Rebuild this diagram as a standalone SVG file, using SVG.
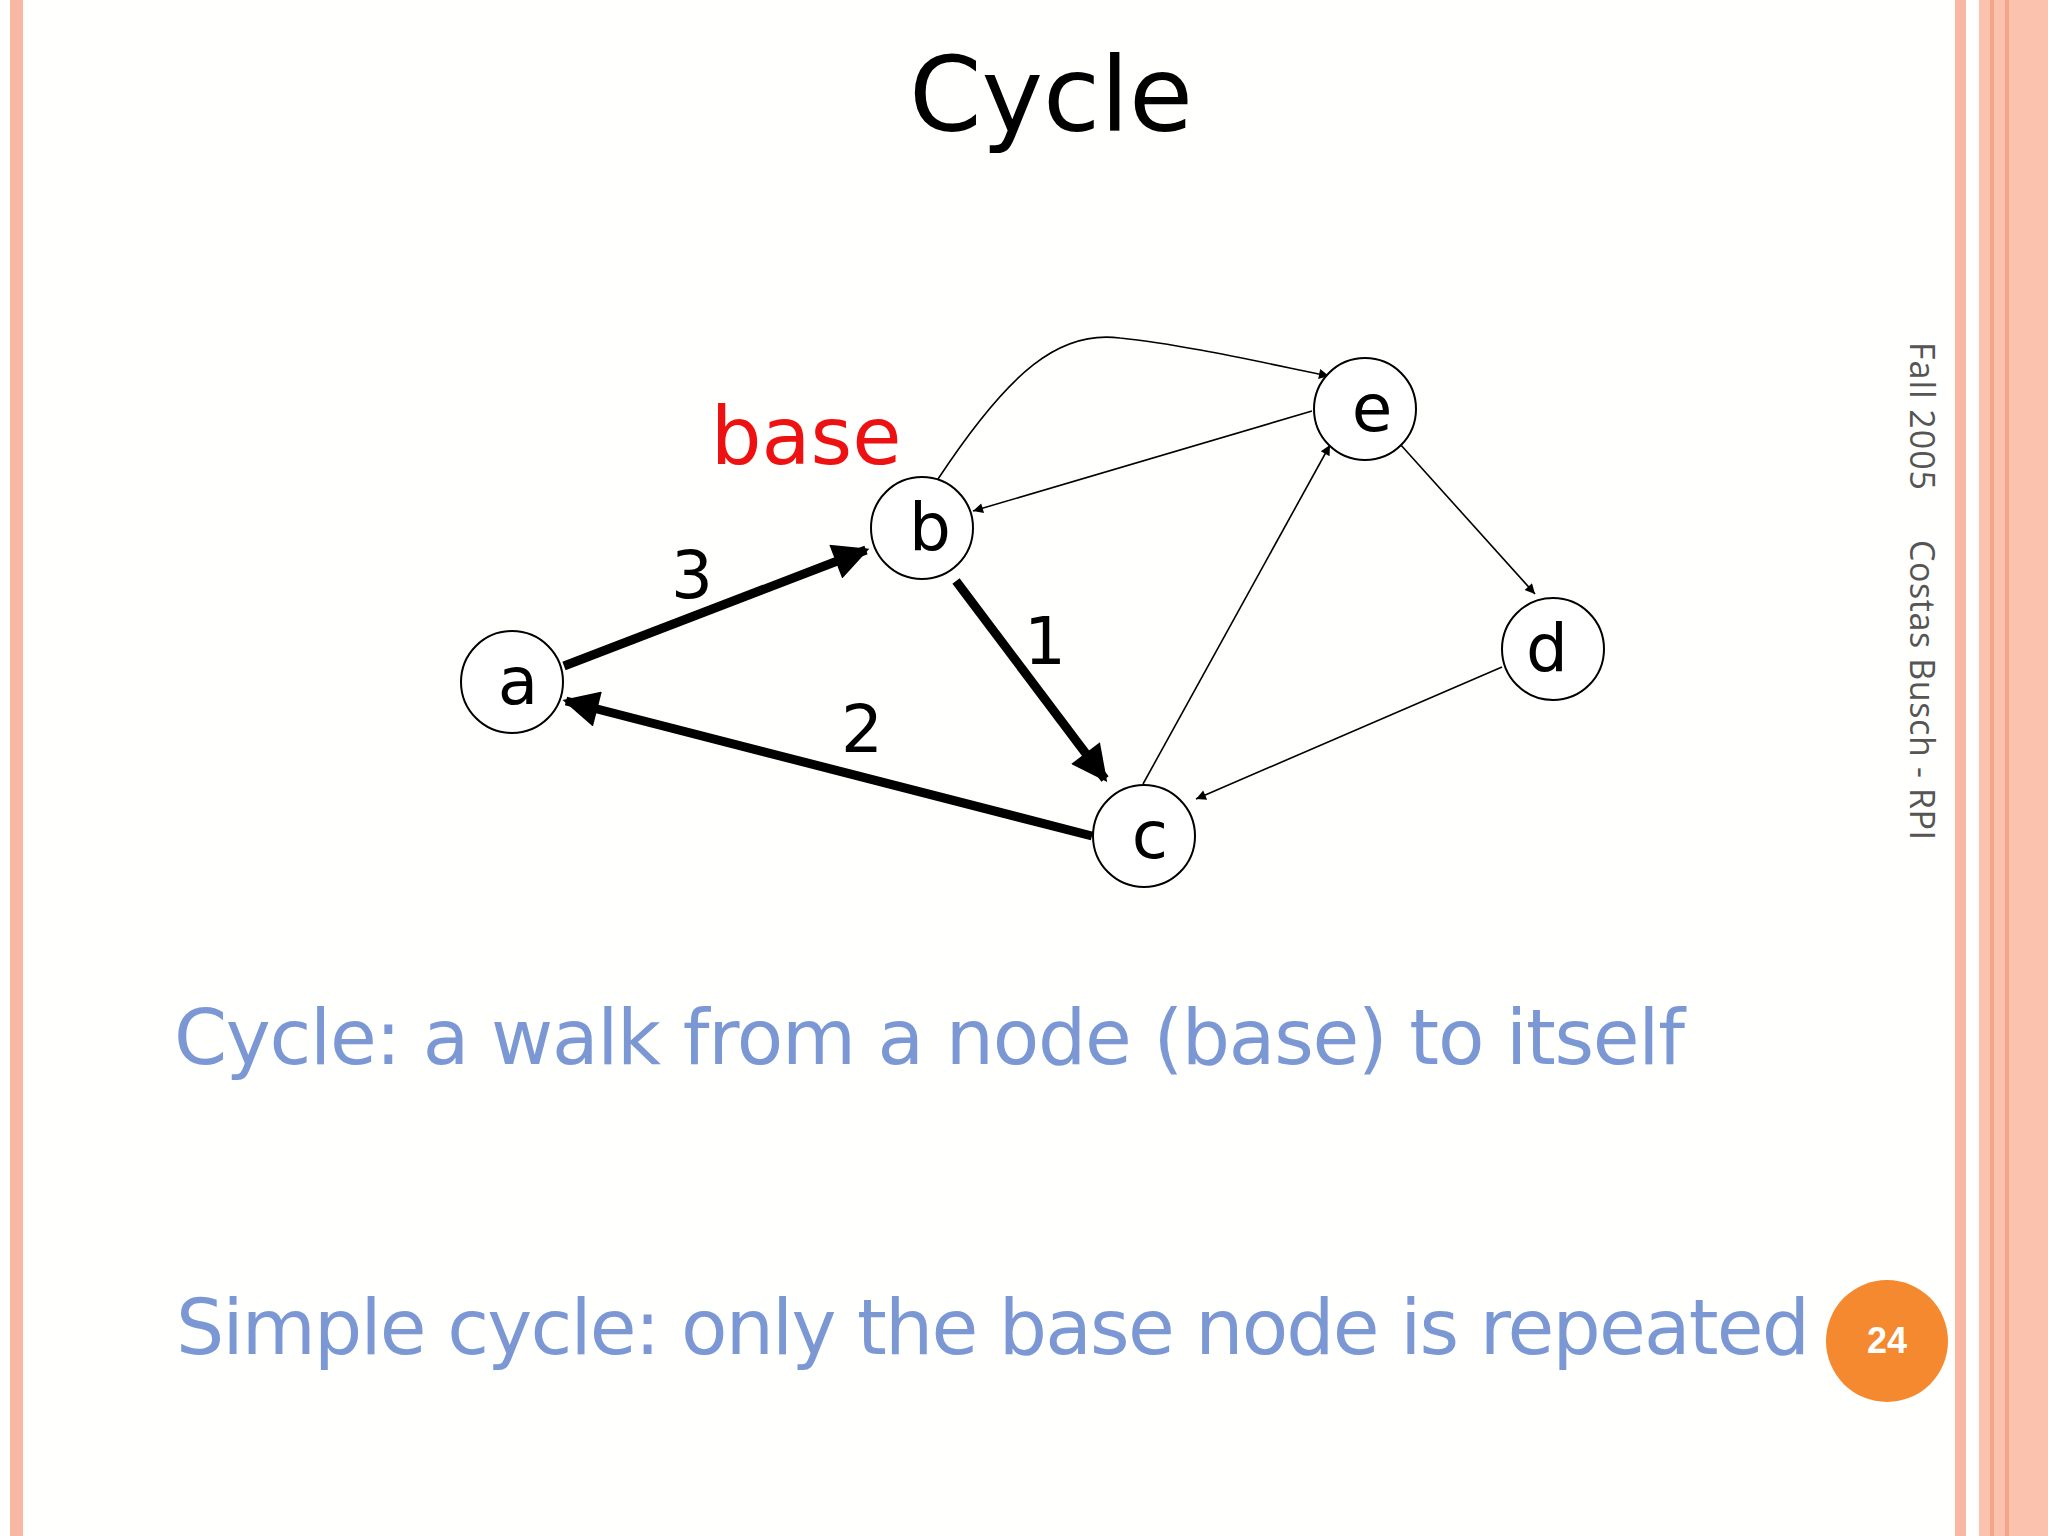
<svg xmlns="http://www.w3.org/2000/svg" width="2048" height="1536" viewBox="0 0 2048 1536">
<style>
.n{fill:#fff;stroke:#000;stroke-width:2}
.l{font-family:"DejaVu Sans",sans-serif;font-size:66px;fill:#000;text-anchor:middle}
.thin{stroke:#000;stroke-width:1.6;fill:none;marker-end:url(#s)}
.thick{stroke:#000;stroke-width:9;fill:none;marker-end:url(#b)}
.t{font-family:"DejaVu Sans",sans-serif;fill:#7b98d4;font-size:76px}
.v{font-family:"Open Sans",sans-serif;font-size:34px;fill:#555}
</style>
<defs>
<marker id="s" viewBox="0 0 10 10" refX="10" refY="5" markerWidth="13" markerHeight="10" markerUnits="userSpaceOnUse" orient="auto"><path d="M0,0L10,5L0,10z"/></marker>
<marker id="b" viewBox="0 0 10 10" refX="9" refY="5" markerWidth="5" markerHeight="4" orient="auto"><path d="M0,0L10,5L0,10z"/></marker>
</defs>
<rect width="2048" height="1536" fill="#fffffd"/>
<rect x="10" y="0" width="13" height="1536" fill="#f9b8a4"/>
<rect x="1955" y="0" width="11" height="1536" fill="#f9b8a4"/>
<rect x="1979" y="0" width="69" height="1536" fill="#fbc2ad"/>
<rect x="1990" y="0" width="4" height="1536" fill="#f4a58c"/>
<rect x="2005" y="0" width="4" height="1536" fill="#f4a58c"/>
<text x="1051" y="131" font-family="DejaVu Sans,sans-serif" font-size="104" text-anchor="middle">Cycle</text>
<g id="edges">
<line class="thick" x1="564" y1="666" x2="866" y2="550"/>
<line class="thick" x1="956" y1="581" x2="1105" y2="779"/>
<line class="thick" x1="1092" y1="836" x2="566" y2="701"/>
<path class="thin" d="M938,479 C1010,370 1060,330 1120,338 C1180,344 1260,362 1329,376"/>
<line class="thin" x1="1312" y1="411" x2="973" y2="511"/>
<line class="thin" x1="1143" y1="784" x2="1330" y2="445"/>
<line class="thin" x1="1400" y1="444" x2="1535" y2="594"/>
<line class="thin" x1="1502" y1="667" x2="1196" y2="799"/>
</g>
<g id="a"><circle class="n" cx="512" cy="682" r="51"/><text class="l" x="518" y="704">a</text></g>
<g id="b"><circle class="n" cx="922" cy="528" r="51"/><text class="l" x="930" y="550">b</text></g>
<g id="e"><circle class="n" cx="1365" cy="409" r="51"/><text class="l" x="1372" y="431">e</text></g>
<g id="d"><circle class="n" cx="1553" cy="649" r="51"/><text class="l" x="1547" y="671">d</text></g>
<g id="c"><circle class="n" cx="1144" cy="836" r="51"/><text class="l" x="1150" y="858">c</text></g>
<text class="l" x="692" y="598">3</text>
<text class="l" x="1045" y="664">1</text>
<text class="l" x="862" y="752">2</text>
<text x="806" y="464" font-family="DejaVu Sans,sans-serif" font-size="80" fill="#ee1111" text-anchor="middle">base</text>
<text class="t" x="174" y="1064" textLength="1511">Cycle: a walk from a node (base) to itself</text>
<text class="t" x="176" y="1354" textLength="1634">Simple cycle: only the base node is repeated</text>
<text class="v" x="1910" y="342" transform="rotate(90 1910 342)" textLength="148">Fall 2005</text>
<text class="v" x="1910" y="540" transform="rotate(90 1910 540)" textLength="300">Costas Busch - RPI</text>
<g id="p"><circle cx="1887" cy="1341" r="61" fill="#f5892f"/><text x="1887" y="1353" font-family="Liberation Sans,sans-serif" font-weight="bold" font-size="36" fill="#fff" text-anchor="middle">24</text></g>
</svg>
